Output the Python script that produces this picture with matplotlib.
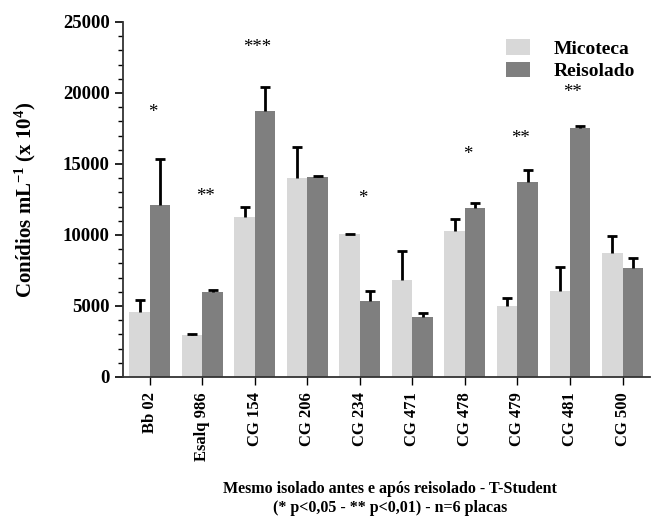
import numpy as np
import matplotlib.pyplot as plt

plt.rcParams['font.family'] = ['Liberation Serif', 'DejaVu Serif']
plt.rcParams['font.weight'] = 'bold'
plt.rcParams['mathtext.fontset'] = 'custom'
plt.rcParams['mathtext.rm'] = 'Liberation Serif:bold'
plt.rcParams['mathtext.it'] = 'Liberation Serif:bold'
plt.rcParams['mathtext.bf'] = 'Liberation Serif:bold'

isolados = ["Bb 02", "Esalq 986", "CG 154", "CG 206", "CG 234",
            "CG 471", "CG 478", "CG 479", "CG 481", "CG 500"]
micoteca = [4600, 2950, 11300, 14000, 10050, 6850, 10300, 5000, 6050, 8700]
micoteca_err = [850, 100, 650, 2200, 50, 2050, 800, 550, 1700, 1250]
reisolado = [12100, 5950, 18750, 14100, 5350, 4250, 11900, 13750, 17500, 7650]
reisolado_err = [3250, 200, 1650, 50, 700, 250, 350, 800, 150, 750]
signif = ["*", "**", "***", "", "*", "", "*", "**", "**", ""]
signif_y = [18600, 12700, 23200, 0, 12550, 0, 15650, 16800, 20050, 0]

fig = plt.figure(figsize=(6.52, 5.16), dpi=100)
ax = fig.add_axes([0.1887, 0.2694, 0.808, 0.6880])

x = np.arange(len(isolados))
w = 0.39
err_kw = dict(elinewidth=2.0, capthick=2.0, capsize=3.6, ecolor='black')
b1 = ax.bar(x - w / 2, micoteca, w, color='#d8d8d8', label='Micoteca',
            yerr=[np.zeros(len(x)), micoteca_err], error_kw=err_kw)
b2 = ax.bar(x + w / 2, reisolado, w, color='#7f7f7f', label='Reisolado',
            yerr=[np.zeros(len(x)), reisolado_err], error_kw=err_kw)
# only the upper cap
for b in (b1, b2):
    b.errorbar.lines[1][0].set_visible(False)

for xi, s, sy in zip(x, signif, signif_y):
    if s:
        ax.text(xi + 0.05, sy, s, ha='center', va='center', fontsize=13.5,
                fontweight='normal')

ax.set_xlim(-0.51, 9.52)
ax.set_ylim(0, 25000)
ax.set_yticks(np.arange(0, 25001, 5000))
ax.set_yticks(np.arange(0, 25001, 1000), minor=True)
ax.set_xticks(x)
ax.set_xticklabels(isolados, rotation=90, fontsize=12, fontweight='bold')
for lab in ax.get_yticklabels():
    lab.set_fontsize(13.5)
    lab.set_fontweight('bold')
ax.tick_params(axis='y', which='major', length=6, width=1.2)
ax.tick_params(axis='y', which='minor', length=3.5, width=1)
ax.tick_params(axis='x', length=6, width=1, pad=5)
for side in ['top', 'right']:
    ax.spines[side].set_visible(False)
for side in ['left', 'bottom']:
    ax.spines[side].set_linewidth(1.3)
    ax.spines[side].set_color('#333333')

ax.set_ylabel(r'Conídios mL$^{-1}$ (x 10$^{4}$)', fontsize=15,
              fontweight='bold', labelpad=18)

fig.text(0.598, 0.053, 'Mesmo isolado antes e após reisolado - T-Student',
         ha='center', va='center', fontsize=11.5, fontweight='bold')
fig.text(0.598, 0.015, '(* p<0,05 - ** p<0,01) - n=6 placas',
         ha='center', va='center', fontsize=11.5, fontweight='bold')

ax.legend(loc='upper right', bbox_to_anchor=(1.005, 1.0), frameon=False,
          fontsize=14, handlelength=1.25, handleheight=0.85,
          labelspacing=0.2, handletextpad=1.2)

fig.savefig('out.png', dpi=100)
